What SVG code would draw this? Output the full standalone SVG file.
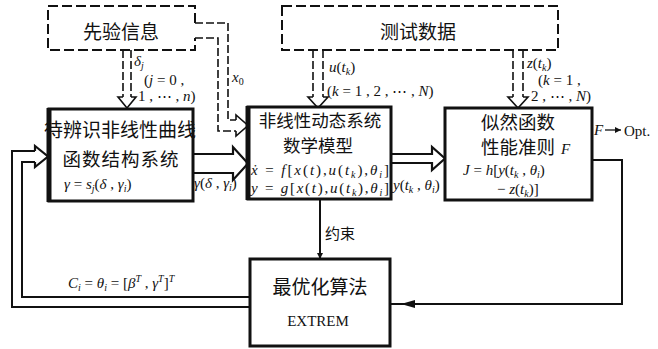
<svg xmlns="http://www.w3.org/2000/svg" width="658" height="349" viewBox="0 0 658 349">
<style>
.box{fill:#fff;stroke:#111;stroke-width:3}
.dbox{fill:none;stroke:#111;stroke-width:2;stroke-dasharray:10 4}
.dl{fill:none;stroke:#111;stroke-width:1.6;stroke-dasharray:8 3}
.hd{fill:none;stroke:#111;stroke-width:1.6}
.ln{fill:none;stroke:#111;stroke-width:2}
.hol{fill:#fff;stroke:#111;stroke-width:2.2;stroke-linejoin:miter}
.cn{font-family:"Noto Sans CJK SC","Noto Sans",sans-serif;fill:#111}
.m{font-family:"Liberation Serif","DejaVu Serif",serif;font-size:15px;fill:#111}
.i{font-style:italic}
.sub{font-size:10px}
</style>
<defs>
<marker id="ah" viewBox="0 0 10 10" refX="10" refY="5" markerWidth="6" markerHeight="8" orient="auto" markerUnits="userSpaceOnUse">
<path d="M0,0 L10,5 L0,10 Z" fill="#111"/>
</marker>
</defs>

<g id="connectors">
<path class="dl" d="M123,50 V97 M131,50 V97"/>
<path class="hd" d="M123,97 H118 L127,108 L136,97 H131"/>
<path class="dl" d="M195,23 H228 V120 H236 M195,38 H218 V131 H236"/>
<path class="hd" d="M236,120 V115 L248,125.5 L236,136 V131"/>
<path class="dl" d="M313,50 V97 M323,50 V97"/>
<path class="hd" d="M313,97 H308 L318,108 L328,97 H323"/>
<path class="dl" d="M513,50 V97 M523,50 V97"/>
<path class="hd" d="M513,97 H508 L518,108 L528,97 H523"/>
<path class="hol" d="M193,154 H233 V147 L248,163.5 L233,180 V173 H193"/>
<path class="hol" d="M391,154 H432 V147 L445,158.5 L432,170 V163 H391"/>
<path class="ln" d="M250,307 H12 V151 H35 M250,297 H22 V162 H35"/>
<path class="hol" d="M35,151 V146 L48,156.5 L35,167 V162"/>
<path class="ln" d="M592,160 H622 V304 H391"/>
<path d="M401,304 L415,300 L415,308 Z" fill="#111"/>
<path class="ln" d="M320,199 V259" marker-end="url(#ah)"/>
<path d="M605,130 H621" stroke="#111" stroke-width="1.3" marker-end="url(#ah)"/>
</g>

<g id="prior">
<path class="dbox" d="M195,23 V6 H48 V50 H195 V38"/>
<text class="cn" x="121" y="39" font-size="19" text-anchor="middle">先验信息</text>
</g>

<g id="testdata">
<rect class="dbox" x="282" y="6" width="276" height="44"/>
<text class="cn" x="418" y="39" font-size="19" text-anchor="middle">测试数据</text>
</g>

<g id="structure">
<rect class="box" x="49" y="109" width="144" height="92"/>
<path d="M49,108 V202" stroke="#111" stroke-width="5"/>
<text class="cn" x="120" y="137" font-size="19" text-anchor="middle">待辨识非线性曲线</text>
<text class="cn" x="121" y="166" font-size="18.5" text-anchor="middle" letter-spacing="1">函数结构系统</text>
<text class="m" x="64" y="189" font-size="16"><tspan class="i">γ</tspan> = <tspan class="i">s</tspan><tspan class="sub i" dy="3">j</tspan><tspan dy="-3">(</tspan><tspan class="i">δ</tspan> , <tspan class="i">γ</tspan><tspan class="sub i" dy="3">i</tspan><tspan dy="-3">)</tspan></text>
</g>

<g id="model">
<rect class="box" x="248" y="107" width="143" height="92"/>
<path d="M248,106 V200" stroke="#111" stroke-width="5"/>
<text class="cn" x="320" y="127" font-size="17.5" text-anchor="middle">非线性动态系统</text>
<text class="cn" x="318" y="152" font-size="17.5" text-anchor="middle">数学模型</text>
<text class="m" x="251" y="175" font-size="15.5" textLength="138" lengthAdjust="spacing"><tspan class="i">ẋ</tspan> = <tspan class="i">f</tspan>[<tspan class="i">x</tspan>(<tspan class="i">t</tspan>),<tspan class="i">u</tspan>(<tspan class="i">t</tspan><tspan class="sub i" dy="3">k</tspan><tspan dy="-3">),</tspan><tspan class="i">θ</tspan><tspan class="sub i" dy="3">i</tspan><tspan dy="-3">]</tspan></text>
<text class="m" x="251" y="193" font-size="15.5" textLength="138" lengthAdjust="spacing"><tspan class="i">y</tspan> = <tspan class="i">g</tspan>[<tspan class="i">x</tspan>(<tspan class="i">t</tspan>),<tspan class="i">u</tspan>(<tspan class="i">t</tspan><tspan class="sub i" dy="3">k</tspan><tspan dy="-3">),</tspan><tspan class="i">θ</tspan><tspan class="sub i" dy="3">i</tspan><tspan dy="-3">]</tspan></text>
</g>

<g id="criterion">
<rect class="box" x="445" y="108" width="147" height="92"/>
<text class="cn" x="518" y="129" font-size="18.5" text-anchor="middle">似然函数</text>
<text class="cn" x="481" y="154" font-size="18.5">性能准则</text>
<text class="m i" x="561" y="154" font-size="16">F</text>
<text class="m" x="463" y="175" font-size="16"><tspan class="i">J</tspan> = <tspan class="i">h</tspan>[<tspan class="i">y</tspan>(<tspan class="i">t</tspan><tspan class="sub i" dy="3">k</tspan><tspan dy="-3"> , </tspan><tspan class="i">θ</tspan><tspan class="sub i" dy="3">i</tspan><tspan dy="-3">)</tspan></text>
<text class="m" x="497" y="194" font-size="16">− <tspan class="i">z</tspan>(<tspan class="i">t</tspan><tspan class="sub i" dy="3">k</tspan><tspan dy="-3">)]</tspan></text>
</g>

<g id="optimizer">
<rect class="box" x="250" y="259" width="140" height="87"/>
<text class="cn" x="320" y="294" font-size="19" text-anchor="middle">最优化算法</text>
<text class="m" x="318" y="326" font-size="16" text-anchor="middle">EXTREM</text>
</g>

<g id="labels">
<text class="m" x="134" y="66"><tspan class="i">δ</tspan><tspan class="sub i" dy="3">j</tspan></text>
<text class="m" x="144" y="85">(<tspan class="i">j</tspan> = 0 ,</text>
<text class="m" x="138" y="101">1 , ⋯ , <tspan class="i">n</tspan>)</text>
<text class="m" x="232" y="82"><tspan class="i">x</tspan><tspan class="sub" dy="3">0</tspan></text>
<text class="m" x="329" y="72"><tspan class="i">u</tspan>(<tspan class="i">t</tspan><tspan class="sub i" dy="3">k</tspan><tspan dy="-3">)</tspan></text>
<text class="m" x="327" y="96">(<tspan class="i">k</tspan> = 1 , 2 , ⋯ , <tspan class="i">N</tspan>)</text>
<text class="m" x="527" y="68"><tspan class="i">z</tspan>(<tspan class="i">t</tspan><tspan class="sub i" dy="3">k</tspan><tspan dy="-3">)</tspan></text>
<text class="m" x="538" y="85">(<tspan class="i">k</tspan> = 1 ,</text>
<text class="m" x="531" y="101">2 , ⋯ , <tspan class="i">N</tspan>)</text>
<text class="m" x="194" y="188"><tspan class="i">γ</tspan>(<tspan class="i">δ</tspan> , <tspan class="i">γ</tspan><tspan class="sub i" dy="3">i</tspan><tspan dy="-3">)</tspan></text>
<text class="m" x="393" y="190"><tspan class="i">y</tspan>(<tspan class="i">t</tspan><tspan class="sub i" dy="3">k</tspan><tspan dy="-3"> , </tspan><tspan class="i">θ</tspan><tspan class="sub i" dy="3">i</tspan><tspan dy="-3">)</tspan></text>
<text class="cn" x="325" y="239" font-size="15">约束</text>
<text class="m" x="68" y="288"><tspan class="i">C</tspan><tspan class="sub i" dy="3">i</tspan><tspan dy="-3"> = </tspan><tspan class="i">θ</tspan><tspan class="sub i" dy="3">i</tspan><tspan dy="-3"> = [</tspan><tspan class="i">β</tspan><tspan class="sub i" dy="-6">T</tspan><tspan dy="6"> , </tspan><tspan class="i">γ</tspan><tspan class="sub i" dy="-6">T</tspan><tspan dy="6">]</tspan><tspan class="sub i" dy="-6">T</tspan></text>
<text class="m i" x="594" y="135" font-size="15">F</text>
<text class="m" x="624" y="136" font-size="16">Opt.</text>
</g>
</svg>
